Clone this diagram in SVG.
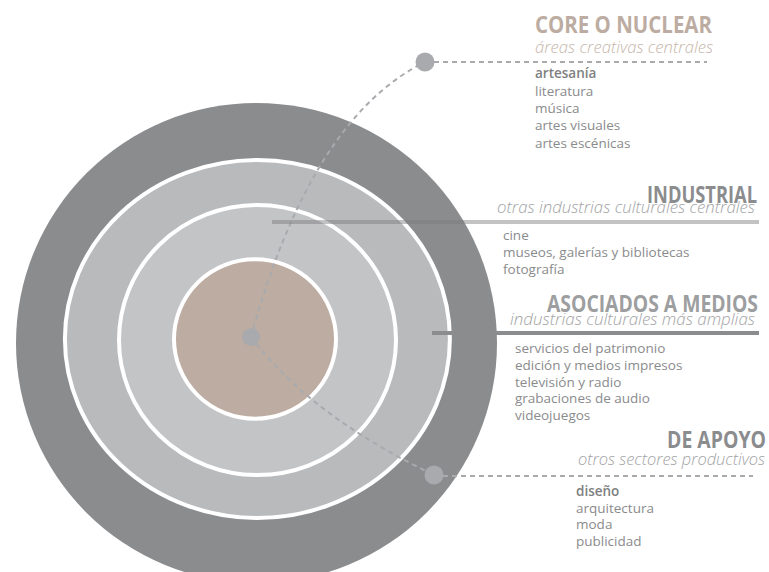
<svg xmlns="http://www.w3.org/2000/svg" width="769" height="572" viewBox="0 0 769 572">
<style>
.ring{stroke:#ffffff;stroke-width:4}
.dash{fill:none;stroke:#a9aaad;stroke-width:2;stroke-dasharray:5 4}
.dot{fill:#a9aaad}
.head{font-family:"Open Sans","Noto Sans","Liberation Sans",sans-serif;font-size:23px;font-weight:700}
.sub{font-family:"Open Sans","Noto Sans","Liberation Sans",sans-serif;font-size:16px;font-style:italic;font-weight:300;fill:#a2a3a5}
.item{font-family:"Open Sans","Noto Sans","Liberation Sans",sans-serif;font-size:13.5px;fill:#8a8b8d}
.b{font-weight:600;fill:#7e7f81}
</style>
<rect width="769" height="572" fill="#ffffff"/>
<g id="circles">
<ellipse cx="256.5" cy="343" rx="240.5" ry="240" fill="#8b8c8e"/>
<ellipse class="ring" cx="257.4" cy="339" rx="192.5" ry="179" fill="#b9babc"/>
<ellipse class="ring" cx="257.5" cy="340" rx="138.5" ry="135" fill="#c3c4c6"/>
<ellipse class="ring" cx="255" cy="339" rx="81" ry="79.7" fill="#bdaca1"/>
</g>
<g id="connectors">
<path class="dash" d="M251,337 Q311,118 425,62"/>
<path class="dash" d="M434,62 H707"/>
<path class="dash" d="M251,337 C280,375 330,425 434,475"/>
<path class="dash" d="M443,476 H753"/>
<rect x="272" y="220" width="487" height="4" fill="#7a7b7d" fill-opacity="0.45"/>
<rect x="432" y="331" width="327" height="4" fill="#8b8c8e"/>
<circle class="dot" cx="251" cy="337" r="9"/>
<circle class="dot" cx="425" cy="62" r="9.5"/>
<circle class="dot" cx="434" cy="475" r="9.5"/>
</g>
<g id="core">
<text class="head" x="535" y="33" fill="#bdaca1" textLength="177" lengthAdjust="spacingAndGlyphs">CORE O NUCLEAR</text>
<text class="sub" x="535" y="53" style="fill:#c6b6aa" textLength="178" lengthAdjust="spacingAndGlyphs">áreas creativas centrales</text>
<text class="item b" x="535" y="78">artesanía</text>
<text class="item" x="535" y="95.5">literatura</text>
<text class="item" x="535" y="113">música</text>
<text class="item" x="535" y="130">artes visuales</text>
<text class="item" x="535" y="147.5">artes escénicas</text>
</g>
<g id="industrial">
<text class="head" x="647" y="203" fill="#8b8c8e" textLength="110" lengthAdjust="spacingAndGlyphs">INDUSTRIAL</text>
<text class="sub" x="497" y="213" textLength="258" lengthAdjust="spacingAndGlyphs">otras industrias culturales centrales</text>
<text class="item" x="503" y="240">cine</text>
<text class="item" x="503" y="257">museos, galerías y bibliotecas</text>
<text class="item" x="503" y="274">fotografía</text>
</g>
<g id="asociados">
<text class="head" x="547" y="312" fill="#9d9ea0" textLength="211" lengthAdjust="spacingAndGlyphs">ASOCIADOS A MEDIOS</text>
<text class="sub" x="510" y="325" textLength="245" lengthAdjust="spacingAndGlyphs">industrias culturales más amplias</text>
<text class="item" x="515" y="353">servicios del patrimonio</text>
<text class="item" x="515" y="370">edición y medios impresos</text>
<text class="item" x="515" y="386.5">televisión y radio</text>
<text class="item" x="515" y="403">grabaciones de audio</text>
<text class="item" x="515" y="419.5">videojuegos</text>
</g>
<g id="apoyo">
<text class="head" x="667" y="448" fill="#8b8c8e" textLength="99" lengthAdjust="spacingAndGlyphs">DE APOYO</text>
<text class="sub" x="578" y="465" textLength="187" lengthAdjust="spacingAndGlyphs">otros sectores productivos</text>
<text class="item b" x="576" y="496">diseño</text>
<text class="item" x="576" y="512.5">arquitectura</text>
<text class="item" x="576" y="529">moda</text>
<text class="item" x="576" y="545.5">publicidad</text>
</g>
</svg>
